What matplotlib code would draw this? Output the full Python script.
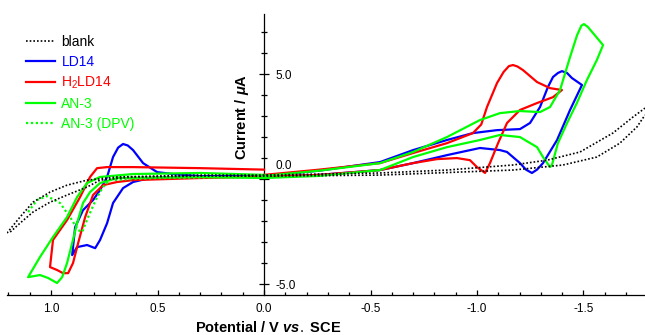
import numpy as np
import matplotlib
matplotlib.use("Agg")
import matplotlib.pyplot as plt
from matplotlib.ticker import MultipleLocator, FixedLocator
from matplotlib.transforms import ScaledTranslation

plt.rcParams['font.family'] = ['Liberation Sans', 'DejaVu Sans']
plt.rcParams['mathtext.fontset'] = 'custom'
plt.rcParams['mathtext.rm'] = 'Liberation Sans'
plt.rcParams['mathtext.it'] = 'Liberation Sans:italic:bold'
plt.rcParams['mathtext.bf'] = 'Liberation Sans:bold'

# --- dane (potencjal V vs SCE, prad uA) ---
blank1_v = [1.207, 1.146, 1.085, 1.005, 0.925, 0.831, 0.690, 0.300, 0.0, -0.545, -0.859,
            -1.169, -1.329, -1.484, -1.638, -1.732, -1.789]
blank1_i = [-2.57, -1.81, -1.10, -0.62, -0.29, -0.05, 0.10, 0.19, 0.19, 0.29, 0.43,
            0.67, 0.90, 1.29, 2.19, 2.95, 3.38]
blank2_v = [1.192, 1.146, 1.085, 1.005, 0.925, 0.831, 0.770, 0.615, 0.300, 0.0, -0.545,
            -1.169, -1.404, -1.563, -1.671, -1.751, -1.789]
blank2_i = [-2.52, -2.10, -1.57, -1.10, -0.76, -0.38, -0.05, 0.10, 0.14, 0.14, 0.19,
            0.43, 0.67, 1.05, 1.71, 2.48, 3.05]

ld14_v = [0.0, -0.26, -0.545, -0.70, -0.859, -0.981, -1.094, -1.202, -1.249, -1.296, -1.333,
          -1.357, -1.380, -1.399, -1.423, -1.446, -1.493,
          -1.437, -1.376, -1.310, -1.282, -1.258, -1.230, -1.202, -1.141, -1.108, -1.014,
          -0.859, -0.70, -0.545, -0.26, 0.0,
          0.300, 0.535, 0.615, 0.662, 0.709, 0.737, 0.770, 0.793, 0.831, 0.878, 0.901,
          0.887, 0.850, 0.803, 0.770, 0.737, 0.709, 0.685, 0.662, 0.640, 0.615, 0.568,
          0.502, 0.427, 0.300, 0.0]
ld14_i = [0.15, 0.40, 0.81, 1.38, 1.86, 2.19, 2.33, 2.38, 2.67, 3.43, 4.38,
          4.86, 5.05, 5.14, 5.05, 4.81, 4.48,
          3.29, 1.86, 0.76, 0.45, 0.29, 0.45, 0.76, 1.29, 1.38, 1.48,
          1.14, 0.76, 0.43, 0.20, 0.10,
          0.10, 0.05, -0.14, -0.43, -1.14, -2.10, -2.90, -3.29, -3.14, -3.24, -3.62,
          -2.29, -1.48, -1.00, -0.52, 0.10, 1.05, 1.50, 1.67, 1.60, 1.38, 0.76,
          0.33, 0.24, 0.14, 0.15]

h2ld14_v = [0.0, -0.26, -0.545, -0.70, -0.859, -0.981, -1.020, -1.047, -1.094, -1.125, -1.150,
            -1.169, -1.190, -1.216, -1.282, -1.343, -1.399,
            -1.357, -1.282, -1.202, -1.141, -1.099, -1.061, -1.038, -1.0, -0.967, -0.906,
            -0.812, -0.70, -0.545, -0.26, 0.0,
            0.300, 0.615, 0.690, 0.756, 0.803, 0.840, 0.873, 0.897, 0.920, 0.944, 0.972, 1.005,
            0.991, 0.925, 0.864, 0.817, 0.784, 0.737, 0.615, 0.300, 0.0]
h2ld14_i = [0.20, 0.45, 0.76, 1.24, 1.71, 2.19, 2.60, 3.43, 4.57, 5.10, 5.38,
            5.43, 5.36, 5.19, 4.62, 4.33, 4.24,
            3.90, 3.62, 3.29, 2.67, 1.71, 0.76, 0.29, 0.57, 0.90, 1.00,
            0.95, 0.76, 0.43, 0.20, 0.12,
            0.05, -0.05, -0.14, -0.29, -0.76, -1.81, -3.05, -4.00, -4.48, -4.48, -4.33, -4.19,
            -2.90, -1.95, -0.86, 0.10, 0.52, 0.57, 0.57, 0.52, 0.45]

an3_v = [0.0, -0.26, -0.545, -0.70, -0.859, -1.014, -1.108, -1.202, -1.296, -1.343, -1.390,
         -1.437, -1.470, -1.490, -1.502, -1.520, -1.545, -1.592,
         -1.563, -1.516, -1.469, -1.423, -1.380, -1.352, -1.343, -1.310, -1.282, -1.202,
         -1.108, -1.014, -0.859, -0.70, -0.545, -0.26, 0.0,
         0.300, 0.690, 0.770, 0.817, 0.850, 0.878, 0.901, 0.925, 0.948, 0.972, 1.014, 1.052, 1.108,
         1.052, 0.991, 0.925, 0.878, 0.831, 0.770, 0.615, 0.300, 0.0]
an3_i = [0.15, 0.40, 0.76, 1.29, 2.00, 2.81, 3.14, 3.24, 3.19, 3.43, 4.24,
         5.81, 6.85, 7.30, 7.38, 7.25, 6.95, 6.38,
         5.67, 4.71, 3.62, 2.67, 1.71, 0.67, 0.57, 1.05, 1.52, 2.00,
         2.10, 1.86, 1.52, 1.05, 0.43, 0.15, 0.05,
         0.10, 0.05, -0.19, -0.62, -1.14, -2.10, -3.05, -4.00, -4.67, -4.95, -4.71, -4.57, -4.67,
         -3.71, -2.76, -1.81, -0.86, -0.19, 0.10, 0.24, 0.29, 0.20]

dpv_v = [1.108, 1.066, 1.019, 0.958, 0.911, 0.873, 0.854, 0.826, 0.784, 0.756, 0.723, 0.500, 0.0]
dpv_i = [-1.57, -1.00, -0.81, -1.14, -1.81, -2.43, -2.52, -1.81, -0.86, -0.38, -0.05, 0.05, 0.10]

x_major = [1.0, 0.5, 0.0, -0.5, -1.0, -1.5]
y_major = [-5.0, 0.0, 5.0]

fig = plt.figure(figsize=(6.45, 3.35), dpi=100)
ax = fig.add_axes([7 / 645, 1 - 295 / 335, 638 / 645, 281 / 335])

ax.plot(ld14_v, ld14_i, color='#0000ff', lw=1.6, label='LD14', zorder=3)
ax.plot(h2ld14_v, h2ld14_i, color='#ff0000', lw=1.6, label=r'H$_2$LD14', zorder=3)
ax.plot(an3_v, an3_i, color='#00ff00', lw=1.6, label='AN-3', zorder=3)
ax.plot(dpv_v, dpv_i, color='#00ff00', lw=1.6, ls=(0, (1, 1.2)), label='AN-3 (DPV)', zorder=4)
ax.plot(blank1_v, blank1_i, color='black', lw=1.2, ls=(0, (1, 1.2)), label='blank', zorder=5)
ax.plot(blank2_v, blank2_i, color='black', lw=1.2, ls=(0, (1, 1.2)), zorder=5)

ax.set_xlim(1.207, -1.789)
ax.set_ylim(-5.52, 7.86)

for s in ['top', 'left']:
    ax.spines[s].set_visible(False)
ax.spines['right'].set_position(('data', 0))
ax.spines['right'].set_linewidth(0.9)
ax.spines['bottom'].set_linewidth(0.9)
ax.yaxis.tick_right()

ax.xaxis.set_major_locator(FixedLocator(x_major))
ax.xaxis.set_minor_locator(MultipleLocator(0.1))
ax.yaxis.set_major_locator(FixedLocator(y_major))
ax.yaxis.set_minor_locator(MultipleLocator(1))
ax.set_xticklabels(['%.1f' % v for v in x_major])
ax.set_yticklabels(['%.1f' % v for v in y_major])

ax.tick_params(axis='x', which='major', direction='in', length=3.6, width=0.9, labelsize=8.5, pad=6)
ax.tick_params(axis='x', which='minor', direction='in', length=2.3, width=0.9)
ax.tick_params(axis='y', which='major', direction='inout', length=7.2, width=0.9, labelsize=8.5, pad=5)
ax.tick_params(axis='y', which='minor', direction='inout', length=4.3, width=0.9)

# etykieta 0.0 przesunieta w gore jak w oryginale
shift = ScaledTranslation(0, 15 / 100, fig.dpi_scale_trans)
zero_tick = ax.yaxis.get_major_ticks()[1]
zero_tick.label2.set_transform(zero_tick.label2.get_transform() + shift)

ax.set_xlabel(r'Potential / V $\mathit{vs.}$ SCE', fontsize=10.5, fontweight='bold')
ax.xaxis.set_label_coords(0.409, -0.114)
ax.xaxis.label.set_va('center')
ax.set_ylabel(r'Current / $\mathit{\mu}$A', fontsize=10.5, fontweight='bold')
ax.yaxis.set_label_position('left')
ax.yaxis.set_label_coords(0.368, 0.633)
ax.yaxis.label.set_rotation_mode('anchor')
ax.yaxis.label.set_va('center')
ax.yaxis.label.set_ha('center')

handles, labels = ax.get_legend_handles_labels()
order = [4, 0, 1, 2, 3]
ax.legend([handles[k] for k in order], [labels[k] for k in order],
          loc='upper left', bbox_to_anchor=(26 / 645, 1 - 35 / 335), bbox_transform=fig.transFigure,
          frameon=False, fontsize=10, handlelength=2.1, handletextpad=0.45,
          labelspacing=0.42, borderpad=0, borderaxespad=0, labelcolor='linecolor')

fig.savefig('out.png', dpi=100)
